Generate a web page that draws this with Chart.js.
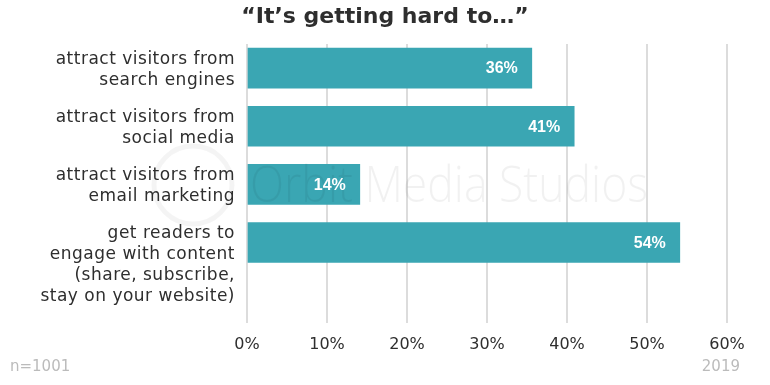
<!DOCTYPE html>
<html>
<head>
<meta charset="utf-8">
<script src="https://cdn.jsdelivr.net/npm/chart.js@4"></script>
<style>
  html, body { margin: 0; padding: 0; background: #fff; }
  #wrap { width: 770px; height: 385px; position: relative; }
</style>
</head>
<body>
<div id="wrap"><canvas id="myChart1" width="770" height="385"></canvas></div>
<script>
// categories (each one split in lines, as in the picture)
var categories = [
	["attract visitors from", "search engines"],
	["attract visitors from", "social media"],
	["attract visitors from", "email marketing"],
	["get readers to", "engage with content", "(share, subscribe,", "stay on your website)"]
];
var values = [35.6, 40.9, 14.1, 54.1];
var xTicks = [0, 10, 20, 30, 40, 50, 60];
var title = "\u201cIt\u2019s getting hard to\u2026\u201d";
var sampleNote = "n=1001";
var yearNote = "2019";

var barColor = "#3aa6b3";
var textColor = "#2e2e2e";

// labels, title, value tags and watermark
var decorPlugin = {
	id: 'decor',
	beforeDatasetsDraw: function(chart) {
		var ctx = chart.ctx;
		ctx.save();
		// faint logo ring
		ctx.strokeStyle = "rgba(0,0,0,0.045)";
		ctx.lineWidth = 5;
		ctx.beginPath();
		ctx.arc(193, 185, 39, 0, Math.PI * 2);
		ctx.stroke();
		ctx.restore();
	},
	afterDatasetsDraw: function(chart) {
		var ctx = chart.ctx;
		var yScale = chart.scales.y;
		var area = chart.chartArea;
		ctx.save();

		// watermark, squeezed to the width seen in the picture
		ctx.save();
		ctx.fillStyle = "rgba(0,0,0,0.055)";
		ctx.font = "300 50px 'Open Sans'";
		ctx.textAlign = "left";
		ctx.textBaseline = "alphabetic";
		var wm = "Orbit Media Studios";
		var sx = 398 / ctx.measureText(wm).width;
		ctx.translate(250, 202);
		ctx.scale(sx, 1);
		ctx.fillText(wm, 0, 0);
		ctx.restore();

		// value labels inside bars
		var meta = chart.getDatasetMeta(0);
		ctx.fillStyle = "#ffffff";
		ctx.font = "bold 16px 'Liberation Sans'";
		ctx.textAlign = "right";
		ctx.textBaseline = "middle";
		meta.data.forEach(function(bar, i) {
			ctx.fillText(Math.round(values[i]) + "%", bar.x - 14, bar.y + 1);
		});

		// category labels
		ctx.fillStyle = textColor;
		ctx.font = "17px 'DejaVu Sans'";
		ctx.letterSpacing = "0.5px";
		ctx.textAlign = "right";
		categories.forEach(function(lines, i) {
			var yc = yScale.getPixelForValue(i);
			lines.forEach(function(line, k) {
				ctx.fillText(line, area.left - 12, yc + 2 - 10.5 + k * 21);
			});
		});
		ctx.letterSpacing = "0px";

		// title
		ctx.font = "bold 22px 'DejaVu Sans'";
		ctx.textAlign = "center";
		ctx.fillText(title, chart.width / 2, 17);

		// notes
		ctx.fillStyle = "#bbbbbb";
		ctx.font = "15px 'DejaVu Sans'";
		ctx.textAlign = "left";
		ctx.fillText(sampleNote, 10, 367);
		ctx.textAlign = "right";
		ctx.fillText(yearNote, 740, 367);
		ctx.restore();
	}
};

window.onload = function() {
	var ctx = document.getElementById("myChart1").getContext("2d");
	window.myBar = new Chart(ctx, {
		type: 'bar',
		data: {
			datasets: [{
				data: values.map(function(v, i) { return { x: v, y: i }; }),
				backgroundColor: barColor,
				barThickness: 40
			}]
		},
		options: {
			indexAxis: 'y',
			responsive: false,
			animation: false,
			events: [],
			layout: {
				padding: { left: 247, right: 43, top: 44, bottom: 19 }
			},
			plugins: {
				legend: { display: false },
				tooltip: { enabled: false }
			},
			scales: {
				x: {
					type: 'linear',
					min: 0,
					max: 60,
					afterBuildTicks: function(axis) {
						axis.ticks = xTicks.map(function(v) { return { value: v }; });
					},
					border: { display: false },
					grid: {
						color: "#dcdcdc",
						lineWidth: 2,
						drawTicks: false
					},
					ticks: {
						color: textColor,
						font: { family: "'DejaVu Sans'", size: 16, weight: '500' },
						padding: 12,
						maxRotation: 0,
						callback: function(v) { return v + "%"; }
					}
				},
				y: {
					type: 'linear',
					bounds: 'data',
					offset: false,
					reverse: true,
					min: -0.414,
					max: 4.38,
					display: false
				}
			}
		},
		plugins: [decorPlugin]
	});
};
</script>
</body>
</html>
